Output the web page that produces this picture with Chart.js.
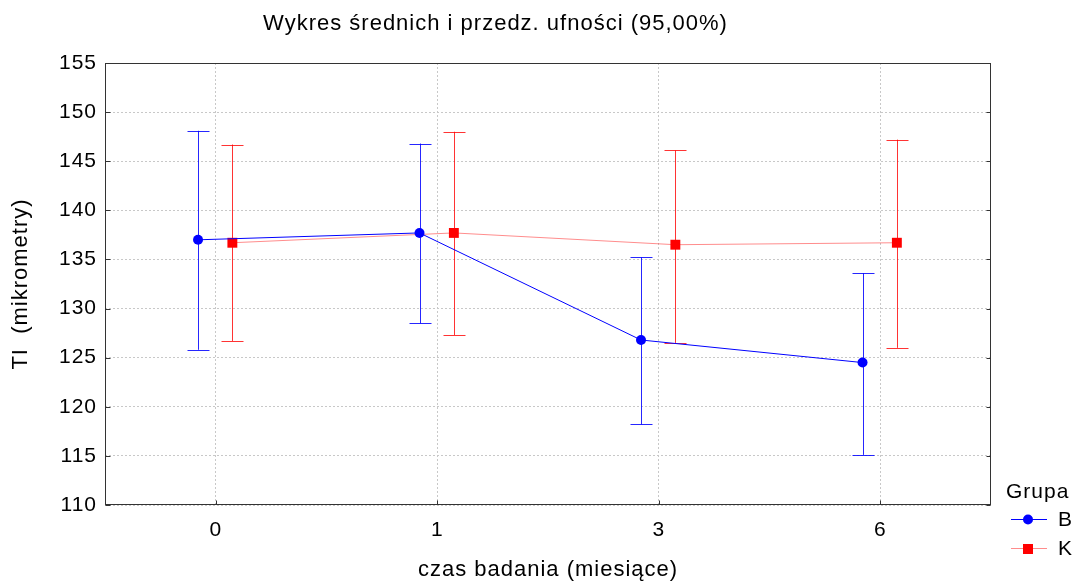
<!DOCTYPE html>
<html lang="pl">
<head>
<meta charset="utf-8">
<title>Wykres średnich</title>
<script src="https://cdn.jsdelivr.net/npm/chart.js@4.4.1/dist/chart.umd.min.js"></script>
<style>
  html, body { margin: 0; padding: 0; background: #fff; }
  #wrap { width: 1078px; height: 583px; position: relative; }
</style>
</head>
<body>
<div id="wrap"><canvas id="wykres"></canvas></div>
<script>
// czas badania (miesiące)
const miesiace = ['0', '1', '3', '6'];

// grupa B: średnie i granice przedziału ufności
const sredniaB = [137.0, 137.7, 126.8, 124.5];
const dolnaB = [125.8, 128.5, 118.2, 115.1];
const gornaB = [148.1, 146.8, 135.2, 133.6];

// grupa K
const sredniaK = [136.7, 137.7, 136.5, 136.7];
const dolnaK = [126.7, 127.3, 126.5, 126.0];
const gornaK = [146.7, 148.0, 146.1, 147.2];

const yTicks = [110, 115, 120, 125, 130, 135, 140, 145, 150, 155];

const FONT = "'Liberation Sans', Arial, sans-serif";

function punkty(srednie, dolne, gorne, przesuniecie) {
  return srednie.map((v, i) => ({ x: i + przesuniecie, y: v, lo: dolne[i], hi: gorne[i] }));
}

const wasy = {
  id: 'wasy',
  beforeDraw(chart) {
    // trochę szersze odstępy między literami
    chart.ctx.letterSpacing = '1px';
  },
  // wąsy przedziałów ufności pod punktami
  beforeDatasetsDraw(chart) {
    const ctx = chart.ctx;
    const sx = chart.scales.x, sy = chart.scales.y;
    chart.data.datasets.forEach(ds => {
      ctx.save();
      ctx.strokeStyle = ds.barColor;
      ctx.lineWidth = 1;
      ds.data.forEach(p => {
        const x = Math.round(sx.getPixelForValue(p.x)) + 0.5;
        const y1 = sy.getPixelForValue(p.lo);
        const y2 = sy.getPixelForValue(p.hi);
        ctx.beginPath();
        ctx.moveTo(x, y1); ctx.lineTo(x, y2);
        ctx.moveTo(x - 11, Math.round(y1) + 0.5); ctx.lineTo(x + 11, Math.round(y1) + 0.5);
        ctx.moveTo(x - 11, Math.round(y2) + 0.5); ctx.lineTo(x + 11, Math.round(y2) + 0.5);
        ctx.stroke();
      });
      ctx.restore();
    });
  },
  afterDraw(chart) {
    const ctx = chart.ctx;
    const a = chart.chartArea;
    const sx = chart.scales.x, sy = chart.scales.y;
    const L = Math.round(a.left) + 0.5, R = Math.round(a.right) - 0.5;
    const T = Math.round(a.top) + 0.5, B = Math.round(a.bottom) - 0.5;
    ctx.save();
    // ramka wykresu i kreski podziałki skierowane do środka
    ctx.strokeStyle = '#333';
    ctx.lineWidth = 1;
    ctx.strokeRect(L, T, R - L, B - T);
    ctx.beginPath();
    yTicks.forEach(v => {
      const y = Math.round(sy.getPixelForValue(v)) + 0.5;
      ctx.moveTo(L, y); ctx.lineTo(L + 5, y);
      ctx.moveTo(R, y); ctx.lineTo(R - 4, y);
    });
    miesiace.forEach((m, i) => {
      const x = Math.round(sx.getPixelForValue(i)) + 0.5;
      ctx.moveTo(x, B); ctx.lineTo(x, B - 4);
    });
    ctx.stroke();

    // legenda
    ctx.fillStyle = '#000';
    ctx.font = '21px ' + FONT;
    ctx.textBaseline = 'middle';
    ctx.textAlign = 'left';
    ctx.fillText('Grupa', 1006, 492);
    chart.data.datasets.forEach((ds, i) => {
      const y = 519 + i * 29;
      ctx.strokeStyle = ds.borderColor;
      ctx.lineWidth = 1;
      ctx.beginPath();
      ctx.moveTo(1011, y + 0.5); ctx.lineTo(1047, y + 0.5);
      ctx.stroke();
      ctx.fillStyle = ds.pointBackgroundColor;
      if (ds.pointStyle === 'rect') {
        ctx.fillRect(1023, y - 4, 10, 10);
      } else {
        ctx.beginPath();
        ctx.arc(1028, y + 0.5, 5, 0, Math.PI * 2);
        ctx.fill();
      }
      ctx.fillStyle = '#000';
      ctx.fillText(ds.label, 1058, y + 1);
    });
    ctx.restore();
  }
};

new Chart(document.getElementById('wykres'), {
  type: 'scatter',
  data: {
    datasets: [
      {
        label: 'B',
        data: punkty(sredniaB, dolnaB, gornaB, -0.08),
        showLine: true,
        borderColor: '#0000ff',
        borderWidth: 1,
        barColor: 'rgba(0,0,255,0.85)',
        pointStyle: 'circle',
        pointRadius: 5,
        pointBackgroundColor: '#0000ff',
        pointBorderWidth: 0
      },
      {
        label: 'K',
        data: punkty(sredniaK, dolnaK, gornaK, 0.075),
        showLine: true,
        borderColor: 'rgba(255,0,0,0.45)',
        borderWidth: 1,
        barColor: 'rgba(255,0,0,0.8)',
        pointStyle: 'rect',
        pointRadius: 7,
        pointBackgroundColor: '#ff0000',
        pointBorderWidth: 0
      }
    ]
  },
  options: {
    responsive: true,
    maintainAspectRatio: false,
    animation: false,
    layout: { padding: { left: 0, right: 87, top: 0, bottom: 0 } },
    plugins: {
      legend: { display: false },
      tooltip: { enabled: false },
      title: {
        display: true,
        text: 'Wykres średnich i przedz. ufności (95,00%)',
        color: '#000',
        font: { family: FONT, size: 22, weight: 'normal', lineHeight: 1.2 },
        padding: { top: 11, bottom: 25.6 }
      }
    },
    scales: {
      x: {
        type: 'linear',
        min: -0.5,
        max: 3.5,
        afterFit(scale) { scale.height = 78; },
        afterBuildTicks(scale) {
          scale.ticks = miesiace.map((m, i) => ({ value: i }));
        },
        ticks: {
          color: '#000',
          font: { family: FONT, size: 21 },
          padding: 13,
          callback: (v) => miesiace[v]
        },
        grid: { color: '#c8c8c8', drawTicks: false },
        border: { display: false, dash: [2, 2] },
        title: {
          display: true,
          text: 'czas badania (miesiące)',
          color: '#000',
          font: { family: FONT, size: 22, lineHeight: 1.2 },
          padding: { top: 0, bottom: 0 }
        }
      },
      y: {
        type: 'linear',
        min: 110,
        max: 155,
        afterFit(scale) { scale.width = 105; },
        afterBuildTicks(scale) {
          scale.ticks = yTicks.map(v => ({ value: v }));
        },
        ticks: {
          color: '#000',
          font: { family: FONT, size: 21 },
          padding: 8
        },
        grid: { color: '#c8c8c8', drawTicks: false },
        border: { display: false, dash: [2, 2] },
        title: {
          display: true,
          text: 'TI  (mikrometry)',
          color: '#000',
          font: { family: FONT, size: 22, lineHeight: 1.2 },
          padding: { top: 8, bottom: 0 }
        }
      }
    }
  },
  plugins: [wasy]
});
</script>
</body>
</html>
